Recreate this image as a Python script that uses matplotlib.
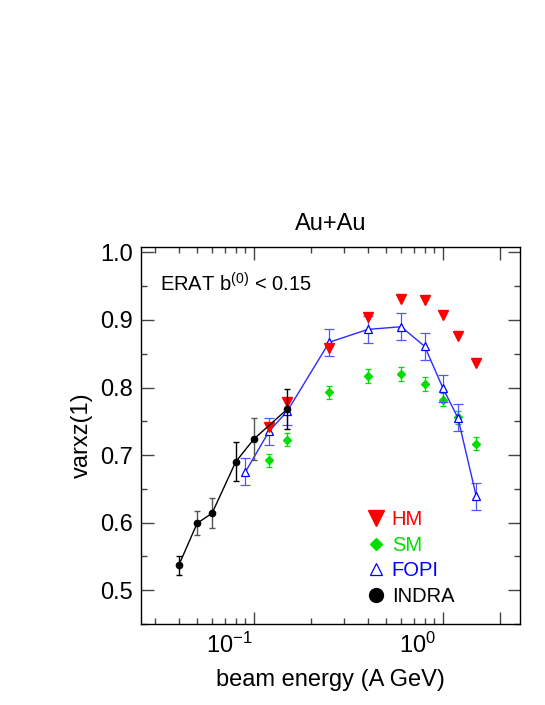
import numpy as np
import matplotlib
matplotlib.use("Agg")
import matplotlib.pyplot as plt
from matplotlib.transforms import ScaledTranslation

plt.rcParams['font.family'] = ['Liberation Sans', 'DejaVu Sans']
plt.rcParams['mathtext.fontset'] = 'custom'
plt.rcParams['mathtext.rm'] = 'Liberation Sans'
plt.rcParams['mathtext.it'] = 'Liberation Sans'

# INDRA (A GeV, varxz)
indra_e = [0.04, 0.05, 0.06, 0.08, 0.10, 0.15]
indra_v = [0.537, 0.599, 0.614, 0.690, 0.724, 0.768]
indra_err = [0.014, 0.018, 0.022, 0.029, 0.031, 0.030]
indra_errcol = ['black', '#555555', '#555555', 'black', '#555555', 'black']

# FOPI
fopi_e = [0.09, 0.12, 0.15, 0.25, 0.40, 0.60, 0.80, 1.0, 1.2, 1.5]
fopi_v = [0.675, 0.735, 0.765, 0.867, 0.886, 0.890, 0.861, 0.799, 0.755, 0.639]
fopi_err = [0.02] * 10

# HM (hard momentum dependent)
hm_e = [0.12, 0.15, 0.25, 0.40, 0.60, 0.80, 1.0, 1.2, 1.5]
hm_v = [0.741, 0.778, 0.859, 0.905, 0.931, 0.929, 0.907, 0.876, 0.836]

# SM (soft momentum dependent)
sm_e = [0.12, 0.15, 0.25, 0.40, 0.60, 0.80, 1.0, 1.2, 1.5]
sm_v = [0.692, 0.723, 0.793, 0.817, 0.820, 0.805, 0.782, 0.756, 0.717]
sm_err = [0.01] * 9

red = '#ff0000'
green = '#00e000'
blue = '#0000ff'

fig = plt.figure(figsize=(5.45, 7.05), dpi=100)
ax = fig.add_axes([141/545, 81/705, 379/545, 377/705])

# SM
ax.errorbar(sm_e, sm_v, yerr=sm_err, fmt='none', ecolor=green, elinewidth=0.9, capsize=2.5, capthick=0.9)
ax.plot(sm_e, sm_v, ls='none', marker='D', ms=3.9, color=green, label='SM')

# FOPI
ax.errorbar(fopi_e, fopi_v, yerr=fopi_err, fmt='none', ecolor='#5555ff', elinewidth=0.9, capsize=3.3, capthick=0.9)
ax.plot(fopi_e, fopi_v, color='#2b2bff', lw=1.0)
ax.plot(fopi_e, fopi_v, ls='none', marker='^', ms=6, mfc='white', mec=blue, mew=0.9, label='FOPI')

# HM
ax.plot(hm_e, hm_v, ls='none', marker='v', ms=6.5, color=red, label='HM')

# INDRA
for e, v, er, c in zip(indra_e, indra_v, indra_err, indra_errcol):
    ax.errorbar([e], [v], yerr=[er], fmt='none', ecolor=c, elinewidth=1.0, capsize=2.2, capthick=1.0)
ax.plot(indra_e, indra_v, color='black', lw=1.0)
ax.plot(indra_e, indra_v, ls='none', marker='o', ms=4.5, color='black', label='INDRA')

ax.set_xscale('log')
ax.set_xlim(0.02523, 2.556)
ax.set_ylim(0.451, 1.008)

ax.set_xticks([0.1, 1.0, 2.0], [r'$10^{-1}$', r'$10^{0}$', ''])
minor = [0.03, 0.04, 0.05, 0.06, 0.07, 0.08, 0.09, 0.2, 0.3, 0.4, 0.5, 0.6, 0.7, 0.8, 0.9]
ax.set_xticks(minor, [''] * len(minor), minor=True)
ax.set_yticks([0.5, 0.6, 0.7, 0.8, 0.9, 1.0], ['0.5', '0.6', '0.7', '0.8', '0.9', '1.0'])
ax.set_yticks(np.arange(0.45, 1.0, 0.1), minor=True)

ax.tick_params(which='both', direction='in', top=True, right=True, color='#444444', width=1.0)
ax.tick_params(which='major', length=9, labelsize=17, pad=6)
ax.tick_params(which='minor', length=4.5)
for s in ax.spines.values():
    s.set_linewidth(1.0)

# the x labels sit left of their ticks in the original
off = ScaledTranslation(-0.25, 0, fig.dpi_scale_trans)
for lab in ax.get_xticklabels():
    lab.set_transform(lab.get_transform() + off)

ax.set_title('Au+Au', fontsize=17, pad=12)
ax.set_xlabel('beam energy (A GeV)', fontsize=17)
ax.set_ylabel('varxz(1)', fontsize=17)
ax.xaxis.set_label_coords(0.5, -0.119)
ax.yaxis.set_label_coords(-0.127, 0.5)

ax.text(0.05, 0.902, r'ERAT b$^{(0)}$ < 0.15', transform=ax.transAxes, fontsize=14.5, va='center')

h, l = ax.get_legend_handles_labels()
order = [l.index(n) for n in ['HM', 'SM', 'FOPI', 'INDRA']]
leg = ax.legend([h[i] for i in order], [l[i] for i in order], loc='lower left',
                bbox_to_anchor=(0.545, 0.0), frameon=False, fontsize=14.5,
                handlelength=1.0, handletextpad=0.3, labelspacing=0.33,
                labelcolor=[red, green, blue, 'black'])
for hd, s in zip(leg.legend_handles, [12, 6.6, 8, 10]):
    hd.set_markersize(s)

fig.savefig('out.png', dpi=100)
